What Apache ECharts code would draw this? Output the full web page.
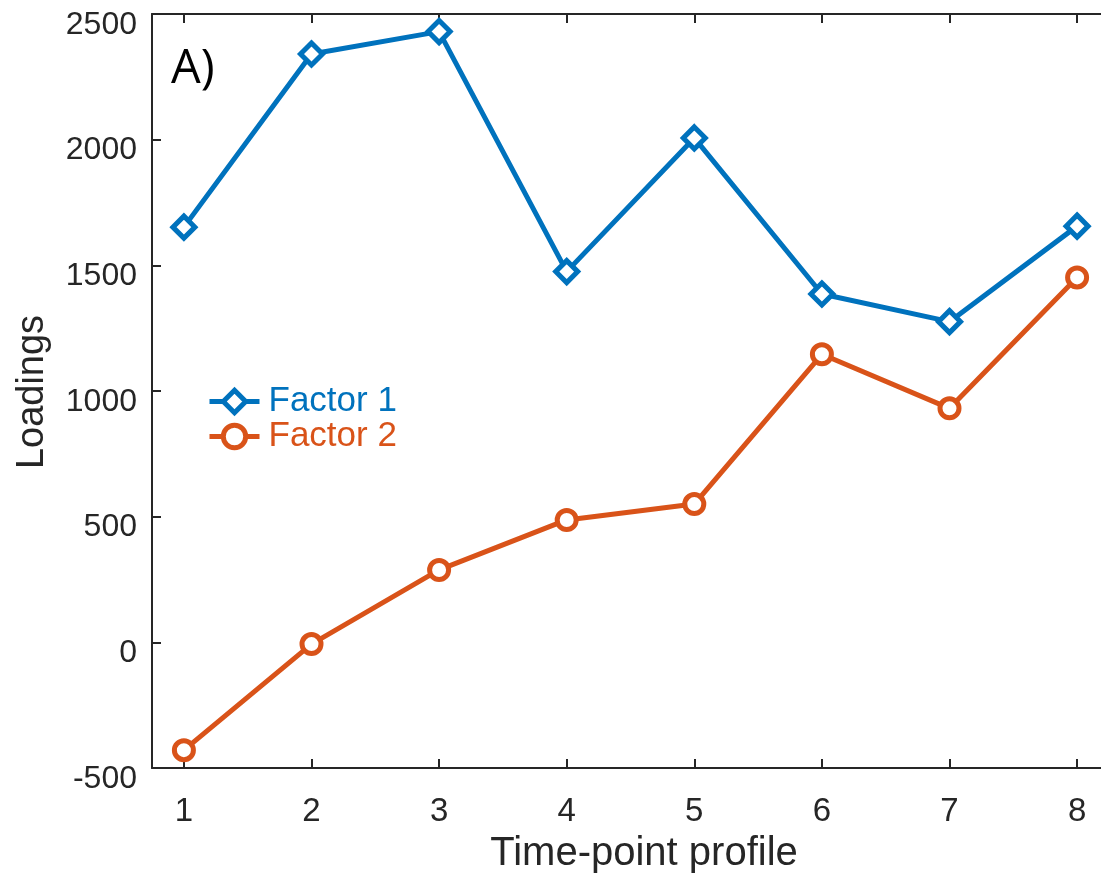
<!DOCTYPE html>
<html>
<head>
<meta charset="utf-8">
<script src="https://cdn.jsdelivr.net/npm/echarts@6/dist/echarts.min.js"></script>
<style>
html,body{margin:0;padding:0;background:#fff;overflow:hidden;}
#c{width:1109px;height:880px;}
</style>
</head>
<body>
<div id="c"></div>
<script>
var categories = [1, 2, 3, 4, 5, 6, 7, 8];
var factor1 = [1652, 2341, 2430, 1475, 2007, 1386, 1276, 1656];
var factor2 = [-429, -7, 288, 487, 550, 1146, 931, 1452];
var xTicks = [1, 2, 3, 4, 5, 6, 7, 8];
var yTicks = [-500, 0, 500, 1000, 1500, 2000, 2500];

var axisColor = '#262626';
var blue = '#0072BD';
var orange = '#D95319';
var font = 'Liberation Sans, Arial, sans-serif';

function pairs(vals) {
  return categories.map(function (c, i) { return [c, vals[i]]; });
}

var chart = echarts.init(document.getElementById('c'));
chart.setOption({
  animation: false,
  backgroundColor: '#fff',
  grid: { left: 152, top: 14, right: 0, bottom: 112, containLabel: false },
  xAxis: [{
    type: 'value', min: 0.75, max: 8.25, position: 'bottom',
    axisLine: { show: true, onZero: false, lineStyle: { color: axisColor, width: 2 } },
    axisTick: { show: true, inside: true, length: 9, customValues: xTicks, lineStyle: { color: axisColor, width: 2 } },
    axisLabel: { customValues: xTicks, color: axisColor, fontSize: 33, fontFamily: font, margin: 27 },
    splitLine: { show: false }
  }, {
    type: 'value', min: 0.75, max: 8.25, position: 'top',
    axisLine: { show: true, onZero: false, lineStyle: { color: axisColor, width: 2 } },
    axisTick: { show: true, inside: true, length: 9, customValues: xTicks, lineStyle: { color: axisColor, width: 2 } },
    axisLabel: { show: false },
    splitLine: { show: false }
  }],
  yAxis: {
    type: 'value', min: -500, max: 2500, interval: 500,
    axisLine: { show: true, onZero: false, lineStyle: { color: axisColor, width: 2 } },
    axisTick: { show: true, inside: true, length: 9, lineStyle: { color: axisColor, width: 2 } },
    axisLabel: {
      customValues: yTicks,
      margin: 15,
      formatter: function (v) { return '{a|' + v + '}'; },
      rich: { a: { color: axisColor, fontSize: 32, fontFamily: font, padding: [22, 0, 0, 0] } }
    },
    splitLine: { show: false }
  },
  legend: {
    orient: 'vertical', left: 202, top: 379, itemWidth: 50, itemHeight: 28, itemGap: 0,
    lineStyle: { width: 5 },
    itemStyle: { borderWidth: 5 },
    textStyle: { fontSize: 35, fontFamily: font, padding: [0, 0, 0, 4] },
    data: [
      { name: 'Factor 1', textStyle: { color: blue } },
      { name: 'Factor 2', textStyle: { color: orange } }
    ]
  },
  graphic: [
    { type: 'text', x: 171, y: 70, style: { text: 'A)', fontSize: 47, fontFamily: 'Open Sans, sans-serif', fill: '#000', align: 'left', verticalAlign: 'middle' } },
    { type: 'text', x: 644, y: 854, style: { text: 'Time-point profile', fontSize: 40, fontFamily: font, fill: axisColor, align: 'center', verticalAlign: 'middle' } },
    { type: 'text', x: 33, y: 392, rotation: Math.PI / 2, style: { text: 'Loadings', fontSize: 38, fontFamily: font, fill: axisColor, align: 'center', verticalAlign: 'middle' } }
  ],
  series: [{
    name: 'Factor 1', type: 'line', data: pairs(factor1),
    symbol: 'diamond', symbolSize: 22,
    lineStyle: { color: blue, width: 5 },
    itemStyle: { color: '#fff', borderColor: blue, borderWidth: 5 }
  }, {
    name: 'Factor 2', type: 'line', data: pairs(factor2),
    symbol: 'circle', symbolSize: 19,
    lineStyle: { color: orange, width: 5 },
    itemStyle: { color: '#fff', borderColor: orange, borderWidth: 5 }
  }]
});
</script>
</body>
</html>
